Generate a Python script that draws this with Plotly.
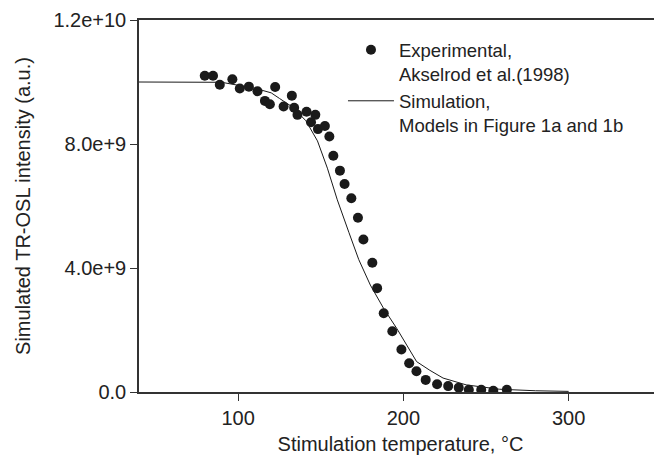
import plotly.graph_objects as go

# Experimental data (Akselrod et al. 1998)
exp_temp = [79.8, 84.8, 88.9, 96.5, 101.0, 106.5, 111.7, 116.2, 119.2, 122.4,
            127.5, 132.5, 133.9, 135.9, 141.4, 144.1, 146.7, 148.3, 152.5, 155.2,
            157.6, 161.6, 164.4, 168.5, 172.5, 175.8, 181.2, 184.1, 188.1, 193.3,
            198.8, 203.5, 207.9, 213.5, 220.4, 227.1, 233.5, 239.6, 247.1, 254.4,
            262.6]
exp_int = [1.02e10, 1.02e10, 9.91e9, 1.009e10, 9.79e9, 9.85e9, 9.70e9, 9.39e9, 9.28e9, 9.84e9,
           9.21e9, 9.56e9, 9.17e9, 8.94e9, 9.04e9, 8.70e9, 8.94e9, 8.48e9, 8.58e9, 8.24e9,
           7.62e9, 7.14e9, 6.71e9, 6.25e9, 5.62e9, 4.92e9, 4.17e9, 3.35e9, 2.54e9, 1.96e9,
           1.37e9, 0.93e9, 0.67e9, 0.39e9, 0.25e9, 0.19e9, 0.14e9, 0.075e9, 0.075e9, 0.04e9,
           0.075e9]

# Simulation curve
sim_temp = [40, 90, 110, 120, 125, 133, 141, 148, 154, 160, 167, 173, 180, 188, 196,
            202, 208, 216, 224, 238, 258, 280, 300]
sim_int = [1.0e10, 9.99e9, 9.8e9, 9.65e9, 9.47e9, 9.19e9, 8.75e9, 8.1e9, 7.22e9, 6.2e9,
           5.15e9, 4.27e9, 3.45e9, 2.7e9, 2.05e9, 1.5e9, 0.98e9, 0.7e9, 0.45e9, 0.23e9,
           0.09e9, 0.04e9, 0.02e9]

x_ticks = [100, 200, 300]
y_ticks = [0, 4e9, 8e9, 1.2e10]
y_tick_labels = ["0.0", "4.0e+9", "8.0e+9", "1.2e+10"]

FONT = "Liberation Sans, Arial, sans-serif"
INK = "#222222"

fig = go.Figure()
fig.add_trace(go.Scatter(
    x=exp_temp, y=exp_int, mode="markers",
    name="Experimental,<br>Akselrod et al.(1998)",
    marker=dict(color="#1a1a1a", size=10, line=dict(width=0)),
))
fig.add_trace(go.Scatter(
    x=sim_temp, y=sim_int, mode="lines",
    name="Simulation,<br>Models in Figure 1a and 1b",
    line=dict(color="#1a1a1a", width=1),
))

# the page body adds an 8 px offset, so the figure is 8 px smaller
fig.update_layout(
    width=654, height=447,
    autosize=False,
    margin=dict(l=131, r=0, t=12, b=59),
    paper_bgcolor="white", plot_bgcolor="white",
    font=dict(family=FONT, size=19, color=INK),
    showlegend=True,
    legend=dict(
        x=0.39, y=0.97, xanchor="left", yanchor="top",
        bgcolor="rgba(0,0,0,0)", borderwidth=0,
        valign="top", tracegroupgap=0, itemwidth=46,
        font=dict(family=FONT, size=18.5, color=INK),
    ),
    xaxis=dict(
        range=[40, 356.5], tickvals=x_ticks, ticktext=[str(v) for v in x_ticks],
        showgrid=False, zeroline=False,
        showline=True, linecolor="#333333", linewidth=1.5, mirror=True,
        ticks="outside", ticklen=7, tickwidth=1.2, tickcolor="#333333",
        tickfont=dict(family=FONT, size=20, color=INK),
        title=dict(text="Stimulation temperature, °C", standoff=12,
                   font=dict(family=FONT, size=20, color=INK)),
    ),
    yaxis=dict(
        range=[0, 1.2e10], tickvals=y_ticks, ticktext=y_tick_labels,
        showgrid=False, zeroline=False,
        showline=True, linecolor="#333333", linewidth=1.5, mirror=False,
        ticks="outside", ticklen=7, tickwidth=1.2, tickcolor="#333333",
        tickfont=dict(family=FONT, size=20, color=INK),
        title=dict(text="Simulated TR-OSL intensity (a.u.)", standoff=17,
                   font=dict(family=FONT, size=20, color=INK)),
    ),
)

fig.write_html("out.html")
